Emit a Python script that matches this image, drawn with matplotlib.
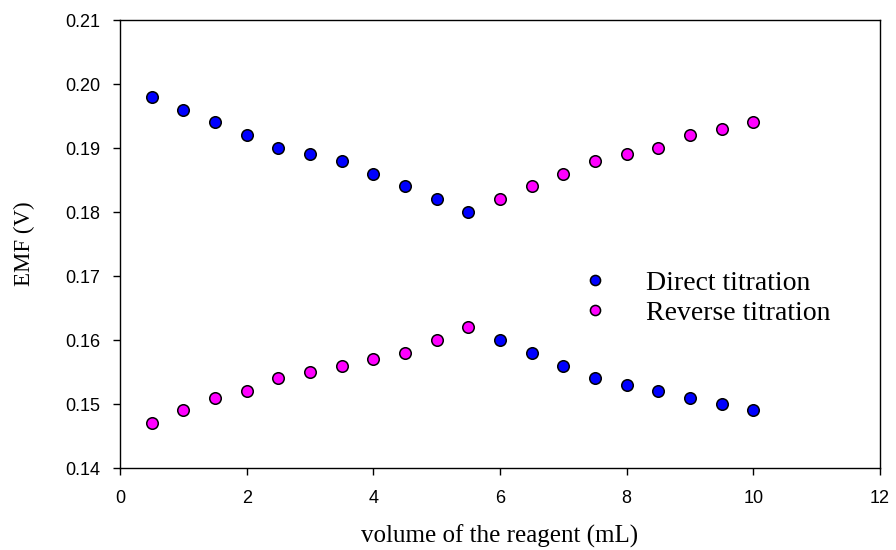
import matplotlib
matplotlib.use("Agg")
import matplotlib.pyplot as plt
import numpy as np

# titration data (volume in mL, EMF in V)
direct_x = [0.5, 1.0, 1.5, 2.0, 2.5, 3.0, 3.5, 4.0, 4.5, 5.0, 5.5,
            6.0, 6.5, 7.0, 7.5, 8.0, 8.5, 9.0, 9.5, 10.0]
direct_y = [0.198, 0.196, 0.194, 0.192, 0.190, 0.189, 0.188, 0.186, 0.184, 0.182, 0.180,
            0.160, 0.158, 0.156, 0.154, 0.153, 0.152, 0.151, 0.150, 0.149]
reverse_x = [0.5, 1.0, 1.5, 2.0, 2.5, 3.0, 3.5, 4.0, 4.5, 5.0, 5.5,
             6.0, 6.5, 7.0, 7.5, 8.0, 8.5, 9.0, 9.5, 10.0]
reverse_y = [0.147, 0.149, 0.151, 0.152, 0.154, 0.155, 0.156, 0.157, 0.158, 0.160, 0.162,
             0.182, 0.184, 0.186, 0.188, 0.189, 0.190, 0.192, 0.193, 0.194]

fig = plt.figure(figsize=(8.96, 5.5), dpi=100)
ax = fig.add_axes([0.134, 0.149, 0.848, 0.8145])

ax.plot(direct_x, direct_y, 'o', color='#0000ff', markeredgecolor='black',
        markeredgewidth=1.1, markersize=8.3, label='Direct titration')
ax.plot(reverse_x, reverse_y, 'o', color='#ff00ff', markeredgecolor='black',
        markeredgewidth=1.1, markersize=8.3, label='Reverse titration')

ax.set_xlim(0, 12)
ax.set_ylim(0.14, 0.21)
ax.set_xticks(np.arange(0, 13, 2))
yt = np.arange(0.14, 0.2101, 0.01)
ax.set_yticks(yt)
ax.set_yticklabels(['%.2f' % v for v in yt])
for lab in ax.get_xticklabels() + ax.get_yticklabels():
    lab.set_fontfamily('Liberation Sans')
    lab.set_fontsize(13)
ax.tick_params(direction='out', length=5, width=1)
ax.tick_params(axis='y', pad=9)
ax.tick_params(axis='x', pad=11)

for s in ax.spines.values():
    s.set_linewidth(1.0)

ax.set_xlabel('volume of the reagent (mL)', family='Liberation Serif', fontsize=18)
ax.set_ylabel('EMF (V)', family='Liberation Serif', fontsize=16.5)
ax.xaxis.set_label_coords(0.5, -0.126)
ax.yaxis.set_label_coords(-0.112, 0.5)

ax.legend(loc='center left', bbox_to_anchor=(0.574, 0.379), frameon=False,
          prop={'family': 'Liberation Serif', 'size': 20},
          handlelength=1.0, handletextpad=1.33, labelspacing=0.18,
          markerscale=0.88)

fig.savefig('out.png', dpi=100)
